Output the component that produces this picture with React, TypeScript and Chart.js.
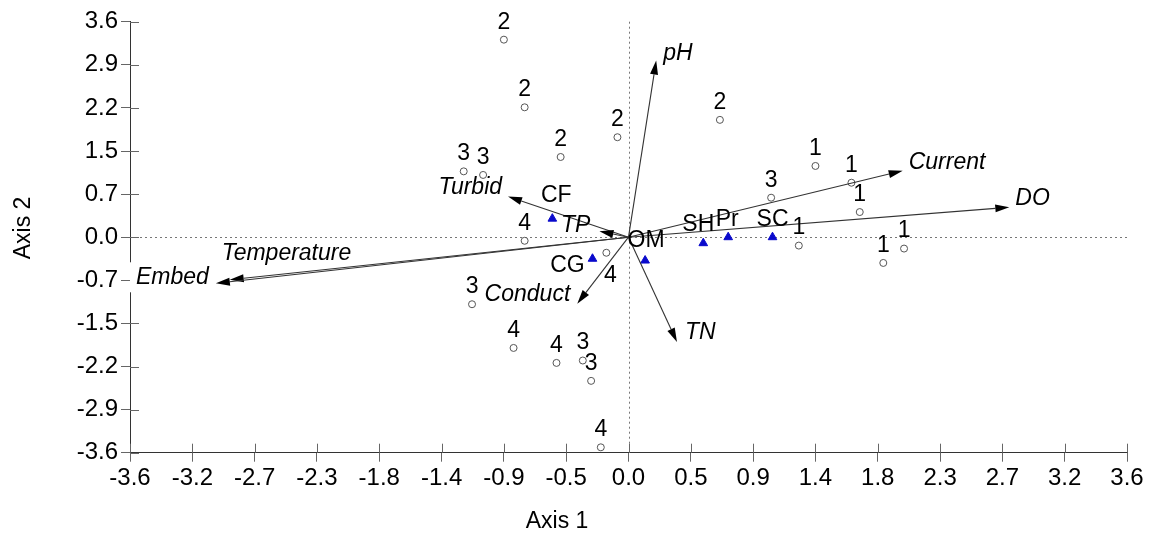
import React, { useEffect, useRef } from 'react';
import { Chart, registerables } from 'chart.js';

Chart.register(...registerables);

// Axis ticks
const xTickValues = [-3.6, -3.15, -2.7, -2.25, -1.8, -1.35, -0.9, -0.45, 0, 0.45, 0.9, 1.35, 1.8, 2.25, 2.7, 3.15, 3.6];
const xTickLabels = ['-3.6', '-3.2', '-2.7', '-2.3', '-1.8', '-1.4', '-0.9', '-0.5', '0.0', '0.5', '0.9', '1.4', '1.8', '2.3', '2.7', '3.2', '3.6'];
const yTickValues = [-3.6, -2.88, -2.16, -1.44, -0.72, 0, 0.72, 1.44, 2.16, 2.88, 3.6];
const yTickLabels = ['-3.6', '-2.9', '-2.2', '-1.5', '-0.7', '0.0', '0.7', '1.5', '2.2', '2.9', '3.6'];

// Sites (circles)
const siteGroups = ['1', '1', '1', '1', '1', '1', '2', '2', '2', '2', '2', '3', '3', '3', '3', '3', '3', '4', '4', '4', '4', '4'];
const siteX = [1.35, 1.61, 1.67, 1.23, 1.84, 1.99, -0.90, -0.75, -0.08, -0.49, 0.66, -1.19, -1.05, 1.03, -1.13, -0.33, -0.27, -0.75, -0.83, -0.52, -0.20, -0.16];
const siteY = [1.19, 0.91, 0.42, -0.14, -0.43, -0.19, 3.30, 2.17, 1.67, 1.34, 1.96, 1.10, 1.04, 0.66, -1.12, -2.06, -2.40, -0.06, -1.85, -2.10, -3.51, -0.26];

// Species (triangles)
const speciesNames = ['CF', 'CG', 'OM', 'SH', 'Pr', 'SC'];
const speciesX = [-0.55, -0.26, 0.12, 0.54, 0.72, 1.04];
const speciesY = [0.31, -0.36, -0.39, -0.10, 0.0, 0.0];

// Environmental vectors (arrows)
const envNames = ['pH', 'Current', 'DO', 'Turbid', 'TP', 'Conduct', 'TN', 'Temperature', 'Embed'];
const envX = [0.20, 1.98, 2.75, -0.87, -0.21, -0.37, 0.35, -2.88, -2.98];
const envY = [2.95, 1.11, 0.50, 0.68, 0.10, -1.11, -1.75, -0.71, -0.77];

// label placement (pixel offsets, kept apart from data)
const siteLabelPlace: Record<number, [number, number]> = { 21: [4, 23] };
const speciesLabelPlace: [number, number, CanvasTextAlign][] = [
  [4, -23, 'center'], [-25, 7, 'center'], [1, -20, 'center'], [-5, -19, 'center'], [-1, -18, 'center'], [0, -18, 'center'],
];
const envLabelPlace: [number, number, CanvasTextAlign][] = [
  [7, -7, 'left'], [6, -8, 'left'], [6, -9, 'left'], [-6, -9, 'right'], [-9, -6, 'right'],
  [-7, -9, 'right'], [8, -9, 'left'], [-8, -26, 'left'], [-7, -6, 'right'],
];

const FONT = '"Liberation Sans", Arial, sans-serif';

const biplotPlugin = {
  id: 'biplot',
  beforeDatasetsDraw(chart: any) {
    const { ctx, chartArea, scales } = chart;
    const xs = scales.x, ys = scales.y;
    ctx.save();
    ctx.strokeStyle = '#777';
    ctx.lineWidth = 1;
    ctx.setLineDash([2, 3]);
    const y0 = Math.round(ys.getPixelForValue(0)) + 0.5;
    const x0 = Math.round(xs.getPixelForValue(0)) + 0.5;
    ctx.beginPath();
    ctx.moveTo(chartArea.left, y0);
    ctx.lineTo(chartArea.right, y0);
    ctx.moveTo(x0, chartArea.top);
    ctx.lineTo(x0, chartArea.bottom);
    ctx.stroke();
    ctx.setLineDash([]);
    ctx.strokeStyle = '#666';
    ctx.beginPath();
    xTickValues.forEach((v) => {
      const px = Math.round(xs.getPixelForValue(v)) + 0.5;
      ctx.moveTo(px, chartArea.bottom);
      ctx.lineTo(px, chartArea.bottom - 9);
    });
    yTickValues.forEach((v) => {
      const py = Math.round(ys.getPixelForValue(v)) + 0.5;
      ctx.moveTo(chartArea.left, py);
      ctx.lineTo(chartArea.left + 9, py);
    });
    ctx.stroke();
    ctx.restore();
  },
  afterDatasetsDraw(chart: any) {
    const { ctx, scales } = chart;
    const xs = scales.x, ys = scales.y;
    const ox = xs.getPixelForValue(0);
    const oy = ys.getPixelForValue(0);
    ctx.save();
    envNames.forEach((name, i) => {
      const tx = xs.getPixelForValue(envX[i]);
      const ty = ys.getPixelForValue(envY[i]);
      const ang = Math.atan2(ty - oy, tx - ox);
      const len = 14, hw = 4;
      const bx = tx - Math.cos(ang) * len;
      const by = ty - Math.sin(ang) * len;
      ctx.strokeStyle = '#333';
      ctx.lineWidth = 1.1;
      ctx.beginPath();
      ctx.moveTo(ox, oy);
      ctx.lineTo(bx, by);
      ctx.stroke();
      ctx.fillStyle = '#000';
      ctx.beginPath();
      ctx.moveTo(tx, ty);
      ctx.lineTo(bx + Math.sin(ang) * hw, by - Math.cos(ang) * hw);
      ctx.lineTo(bx - Math.sin(ang) * hw, by + Math.cos(ang) * hw);
      ctx.closePath();
      ctx.fill();
    });
    ctx.font = 'italic 23px ' + FONT;
    ctx.textBaseline = 'middle';
    envNames.forEach((name, i) => {
      const [dx, dy, al] = envLabelPlace[i];
      const lx = xs.getPixelForValue(envX[i]) + dx;
      const ly = ys.getPixelForValue(envY[i]) + dy;
      ctx.textAlign = al;
      if (name === 'Embed') {
        const w = ctx.measureText(name).width;
        ctx.fillStyle = '#fff';
        ctx.fillRect(lx - w - 6, ly - 15, w + 9, 30);
      }
      ctx.fillStyle = '#000';
      ctx.fillText(name, lx, ly);
    });
    ctx.font = '23px ' + FONT;
    ctx.textAlign = 'center';
    siteGroups.forEach((g, i) => {
      const [dx, dy] = siteLabelPlace[i] || [0, -17.5];
      ctx.fillText(g, xs.getPixelForValue(siteX[i]) + dx, ys.getPixelForValue(siteY[i]) + dy);
    });
    speciesNames.forEach((n, i) => {
      const [dx, dy, al] = speciesLabelPlace[i];
      ctx.textAlign = al;
      ctx.fillText(n, xs.getPixelForValue(speciesX[i]) + dx, ys.getPixelForValue(speciesY[i]) + dy);
    });
    ctx.restore();
  },
  afterDraw(chart: any) {
    const { ctx } = chart;
    ctx.save();
    ctx.fillStyle = '#000';
    ctx.font = '23px ' + FONT;
    ctx.textAlign = 'center';
    ctx.textBaseline = 'middle';
    ctx.fillText('Axis 1', 557, 522);
    ctx.translate(24, 228);
    ctx.rotate(-Math.PI / 2);
    ctx.fillText('Axis 2', 0, 0);
    ctx.restore();
  },
};

export default function App() {
  const ref = useRef<HTMLCanvasElement>(null);
  useEffect(() => {
    if (!ref.current) return;
    const tickFont = { family: FONT, size: 24 };
    const chart = new Chart(ref.current, {
      type: 'scatter',
      data: {
        datasets: [
          {
            label: 'Sites',
            data: siteX.map((x, i) => ({ x, y: siteY[i] })),
            pointStyle: 'circle',
            pointRadius: 3.5,
            backgroundColor: '#fff',
            borderColor: '#555',
            borderWidth: 1,
          },
          {
            label: 'Species',
            data: speciesX.map((x, i) => ({ x, y: speciesY[i] })),
            pointStyle: 'triangle',
            pointRadius: 5,
            backgroundColor: '#0a0acc',
            borderColor: '#0a0acc',
            borderWidth: 1,
          },
        ],
      },
      options: {
        animation: false,
        responsive: false,
        devicePixelRatio: 1,
        layout: { padding: { left: 0, top: 21.7, right: 22, bottom: 0 } },
        plugins: { legend: { display: false }, tooltip: { enabled: false } },
        scales: {
          x: {
            type: 'linear',
            position: 'bottom',
            min: -3.6,
            max: 3.6,
            afterBuildTicks: (s: any) => { s.ticks = xTickValues.map((v) => ({ value: v })); },
            afterFit: (s: any) => { s.height = 83.3; },
            ticks: {
              callback: (_v: any, i: number) => xTickLabels[i],
              font: tickFont,
              color: '#000',
              padding: 2,
              maxRotation: 0,
              autoSkip: false,
            },
            grid: { drawOnChartArea: false, drawTicks: true, tickLength: 9, color: '#666' },
            border: { display: true, color: '#333', width: 1 },
          },
          y: {
            type: 'linear',
            position: 'left',
            min: -3.6,
            max: 3.6,
            afterBuildTicks: (s: any) => { s.ticks = yTickValues.map((v) => ({ value: v })); },
            afterFit: (s: any) => { s.width = 130; },
            ticks: {
              callback: (_v: any, i: number) => yTickLabels[i],
              font: tickFont,
              color: '#000',
              padding: 3,
              autoSkip: false,
            },
            grid: { drawOnChartArea: false, drawTicks: true, tickLength: 9, color: '#666' },
            border: { display: true, color: '#333', width: 1 },
          },
        },
      },
      plugins: [biplotPlugin],
    });
    return () => chart.destroy();
  }, []);
  return (
    <div style={{ position: 'absolute', left: 0, top: 0, width: 1149, height: 536, background: '#fff' }}>
      <canvas ref={ref} width={1149} height={536} style={{ width: 1149, height: 536 }} />
    </div>
  );
}
